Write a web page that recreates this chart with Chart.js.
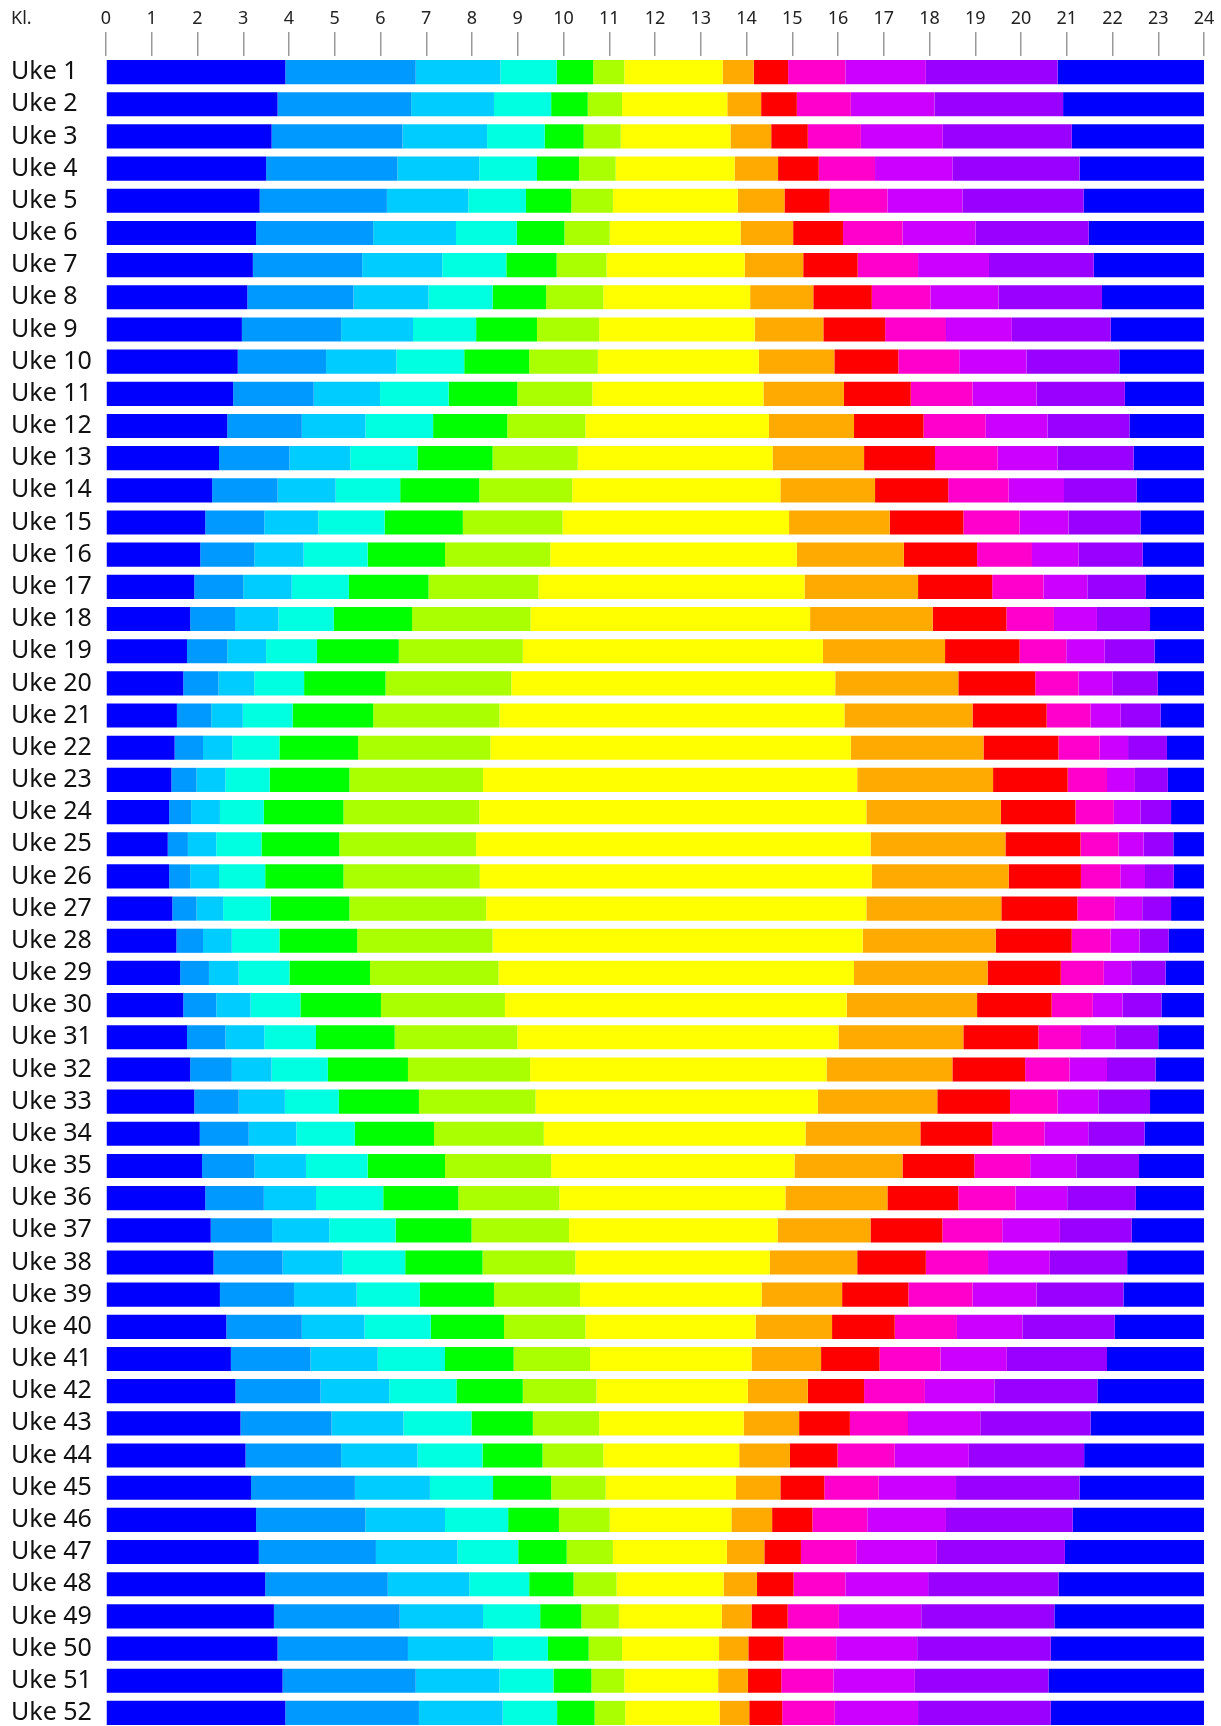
<!DOCTYPE html>
<html>
<head>
<meta charset="utf-8">
<script src="https://cdn.jsdelivr.net/npm/chart.js@4.4.1/dist/chart.umd.min.js"></script>
<style>
  html, body { margin: 0; padding: 0; background: #fff; overflow: hidden; }
  #wrap { width: 1221px; height: 1726px; overflow: hidden; }
</style>
</head>
<body>
<div id="wrap"><canvas id="myChart" width="1221" height="1730"></canvas></div>
<script>
// uke 1..52
const uker = [];
for (let i = 1; i <= 52; i++) uker.push("Uke " + i);

const timer = ["0","1","2","3","4","5","6","7","8","9","10","11","12","13","14","15","16","17","18","19","20","21","22","23","24"];

// klokkeslett (timer) der fargen skifter, en rad per grense, uke 1..52
const g1 = [3.92,3.75,3.62,3.50,3.36,3.28,3.21,3.09,2.97,2.88,2.78,2.65,2.47,2.32,2.17,2.06,1.93,1.84,1.77,1.69,1.55,1.50,1.43,1.38,1.35,1.38,1.45,1.54,1.62,1.69,1.77,1.84,1.93,2.05,2.10,2.17,2.29,2.35,2.49,2.63,2.73,2.83,2.94,3.05,3.17,3.28,3.34,3.48,3.67,3.75,3.86,3.92];
const g2 = [6.77,6.67,6.48,6.37,6.14,5.84,5.60,5.41,5.14,4.81,4.54,4.28,4.01,3.75,3.46,3.24,3.00,2.82,2.65,2.46,2.30,2.12,1.98,1.86,1.79,1.84,1.98,2.12,2.25,2.41,2.61,2.75,2.90,3.12,3.24,3.45,3.63,3.86,4.11,4.28,4.47,4.69,4.93,5.14,5.44,5.67,5.90,6.16,6.42,6.60,6.77,6.84];
const g3 = [8.62,8.48,8.33,8.16,7.92,7.65,7.35,7.05,6.71,6.35,5.99,5.67,5.34,5.02,4.64,4.32,4.06,3.77,3.50,3.24,2.99,2.76,2.61,2.49,2.41,2.47,2.56,2.75,2.90,3.16,3.46,3.62,3.91,4.16,4.37,4.59,4.88,5.17,5.48,5.65,5.94,6.19,6.50,6.81,7.08,7.41,7.68,7.94,8.24,8.46,8.60,8.67];
const g4 = [9.85,9.73,9.59,9.42,9.18,8.98,8.75,8.45,8.09,7.83,7.49,7.15,6.81,6.43,6.09,5.72,5.31,4.98,4.61,4.33,4.08,3.79,3.58,3.45,3.40,3.48,3.60,3.79,4.01,4.25,4.59,4.85,5.09,5.44,5.72,6.06,6.33,6.54,6.86,7.10,7.41,7.66,7.99,8.23,8.46,8.79,9.01,9.25,9.49,9.66,9.78,9.86];
const g5 = [10.65,10.53,10.44,10.34,10.17,10.02,9.85,9.62,9.42,9.25,8.99,8.77,8.45,8.16,7.80,7.41,7.05,6.69,6.40,6.11,5.84,5.51,5.32,5.19,5.10,5.19,5.32,5.49,5.77,6.01,6.31,6.60,6.84,7.17,7.41,7.70,7.99,8.23,8.48,8.70,8.91,9.11,9.33,9.54,9.73,9.90,10.07,10.22,10.39,10.55,10.61,10.68];
const g6 = [11.33,11.28,11.25,11.14,11.08,11.01,10.94,10.87,10.78,10.75,10.63,10.48,10.31,10.19,9.98,9.71,9.45,9.28,9.11,8.86,8.60,8.40,8.24,8.16,8.09,8.17,8.31,8.45,8.58,8.72,8.99,9.27,9.39,9.57,9.73,9.91,10.12,10.26,10.36,10.48,10.58,10.72,10.78,10.87,10.92,11.01,11.08,11.16,11.21,11.28,11.33,11.35];
const g7 = [13.48,13.58,13.65,13.74,13.81,13.87,13.96,14.08,14.18,14.27,14.37,14.49,14.57,14.74,14.93,15.10,15.27,15.39,15.67,15.94,16.14,16.28,16.42,16.62,16.71,16.74,16.62,16.54,16.35,16.19,16.01,15.75,15.56,15.29,15.05,14.85,14.68,14.51,14.33,14.20,14.11,14.03,13.94,13.84,13.77,13.67,13.57,13.50,13.46,13.40,13.38,13.41];
const g8 = [14.16,14.32,14.54,14.69,14.83,15.02,15.24,15.46,15.68,15.92,16.13,16.35,16.57,16.81,17.13,17.44,17.75,18.07,18.34,18.63,18.94,19.18,19.39,19.56,19.66,19.73,19.57,19.45,19.27,19.04,18.74,18.50,18.17,17.80,17.41,17.08,16.71,16.42,16.09,15.87,15.63,15.34,15.15,14.95,14.74,14.56,14.39,14.23,14.11,14.04,14.03,14.06];
const g9 = [14.91,15.10,15.34,15.58,15.82,16.11,16.43,16.74,17.03,17.32,17.59,17.87,18.12,18.41,18.74,19.04,19.37,19.68,19.97,20.31,20.56,20.82,21.02,21.19,21.30,21.31,21.23,21.11,20.87,20.67,20.38,20.09,19.76,19.37,18.98,18.63,18.28,17.92,17.54,17.24,16.91,16.57,16.26,15.99,15.70,15.44,15.19,15.03,14.90,14.81,14.76,14.78];
const g10 = [16.16,16.28,16.50,16.81,17.08,17.41,17.75,18.02,18.36,18.65,18.94,19.23,19.49,19.73,19.97,20.24,20.49,20.72,20.99,21.26,21.52,21.72,21.88,22.03,22.13,22.17,22.05,21.96,21.81,21.57,21.31,21.06,20.80,20.51,20.20,19.88,19.59,19.28,18.94,18.60,18.24,17.90,17.53,17.24,16.89,16.64,16.40,16.16,16.02,15.96,15.90,15.93];
const g11 = [17.92,18.11,18.29,18.50,18.72,19.01,19.30,19.51,19.80,20.12,20.34,20.58,20.80,20.94,21.04,21.26,21.45,21.66,21.83,22.00,22.18,22.34,22.49,22.61,22.68,22.71,22.65,22.59,22.41,22.22,22.06,21.88,21.69,21.47,21.21,21.01,20.85,20.63,20.34,20.03,19.69,19.42,19.11,18.86,18.58,18.36,18.16,17.97,17.82,17.73,17.68,17.75];
const g12 = [20.80,20.92,21.11,21.28,21.37,21.48,21.59,21.77,21.96,22.15,22.27,22.37,22.46,22.53,22.61,22.66,22.73,22.82,22.92,22.99,23.05,23.19,23.21,23.28,23.33,23.34,23.28,23.23,23.16,23.07,23.00,22.94,22.82,22.70,22.58,22.51,22.42,22.32,22.24,22.05,21.88,21.67,21.52,21.38,21.28,21.13,20.96,20.82,20.73,20.65,20.60,20.65];

const farger = ["#0000ff","#0099ff","#00ccff","#00ffe0","#00ff00","#aaff00","#ffff00","#ffaa00","#ff0000","#ff00cc","#cc00ff","#9900ff","#0000ff"];

const grenser = [g1, g2, g3, g4, g5, g6, g7, g8, g9, g10, g11, g12];

// hvert felt er et flytende stolpe-stykke [fra, til]
const datasets = farger.map((farge, i) => {
    return {
        data: uker.map((u, w) => {
            const fra = i == 0 ? 0 : grenser[i - 1][w];
            const til = i == grenser.length ? 24 : grenser[i][w];
            return [fra, til];
        }),
        backgroundColor: farge,
        borderWidth: 0,
        borderSkipped: false,
        grouped: false,
        barPercentage: 0.75,
        categoryPercentage: 1.0
    };
});

const klTekst = {
    id: "klTekst",
    afterDraw(chart) {
        const ctx = chart.ctx;
        ctx.save();
        ctx.font = '18px "Noto Sans"';
        ctx.fillStyle = "#222";
        ctx.textAlign = "left";
        ctx.textBaseline = "middle";
        ctx.fillText("Kl.", 11, 19);
        ctx.restore();
    }
};

const graphic = document.getElementById("myChart").getContext("2d");
new Chart(graphic, {
    type: "bar",
    data: { labels: uker, datasets: datasets },
    options: {
        indexAxis: "y",
        responsive: false,
        animation: false,
        layout: { padding: { left: 11, right: 17, top: 0, bottom: 1 } },
        plugins: { legend: { display: false }, tooltip: { enabled: false } },
        scales: {
            x: {
                type: "linear",
                position: "top",
                min: 0,
                max: 24,
                afterFit: (scale) => { scale.height = 56; },
                ticks: {
                    stepSize: 1,
                    padding: 2,
                    color: "#222",
                    font: { family: "Noto Sans", size: 18 },
                    callback: (v) => timer[v]
                },
                grid: {
                    drawOnChartArea: false,
                    drawTicks: true,
                    tickLength: 24,
                    color: "#999",
                    lineWidth: 1.5
                },
                border: { display: false }
            },
            y: {
                type: "category",
                afterFit: (scale) => {
                    scale.width = 95;
                    scale.paddingTop = 0;
                    scale.paddingBottom = 0;
                },
                ticks: {
                    crossAlign: "far",
                    color: "#111",
                    font: { family: "Noto Sans", size: 25 },
                    autoSkip: false
                },
                grid: { display: false, drawTicks: false },
                border: { display: false }
            }
        }
    },
    plugins: [klTekst]
});
</script>
</body>
</html>
